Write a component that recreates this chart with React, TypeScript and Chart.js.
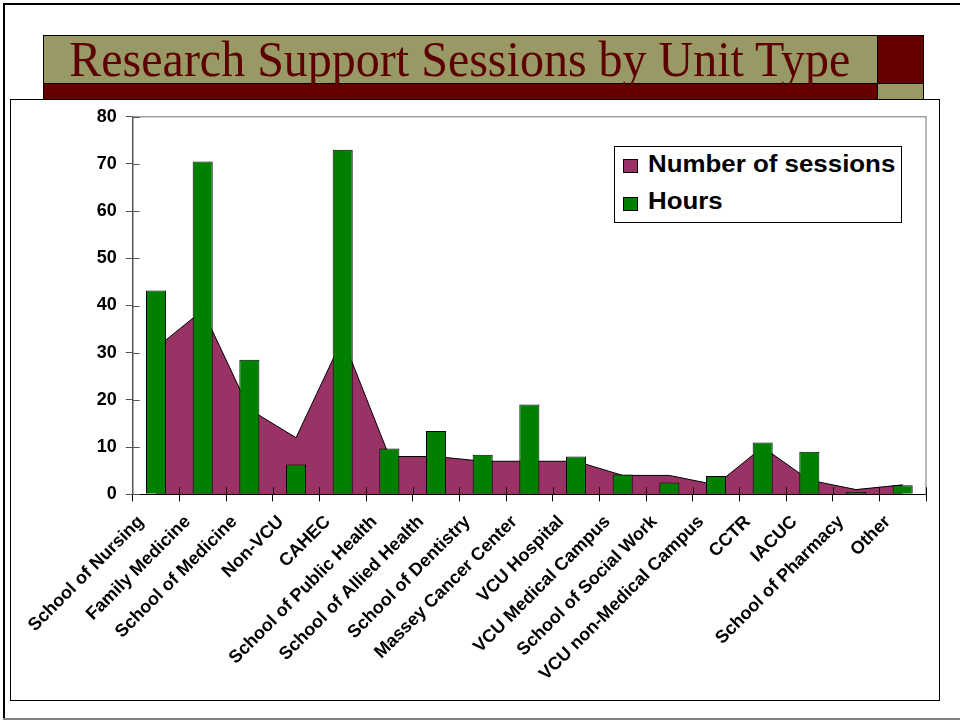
import React, { useEffect, useRef } from "react";
import { Chart, registerables } from "chart.js";

Chart.register(...registerables);

const categories = [
  "School of Nursing",
  "Family Medicine",
  "School of Medicine",
  "Non-VCU",
  "CAHEC",
  "School of Public Health",
  "School of Allied Health",
  "School of Dentistry",
  "Massey Cancer Center",
  "VCU Hospital",
  "VCU Medical Campus",
  "School of Social Work",
  "VCU non-Medical Campus",
  "CCTR",
  "IACUC",
  "School of Pharmacy",
  "Other",
];

const sessions = [31, 39, 18, 12, 33, 8, 8, 7, 7, 7, 4, 4, 2, 10, 3, 1, 2];
const hours = [43.2, 70.5, 28.5, 6.3, 73.0, 9.7, 13.4, 8.4, 19.0, 8.0, 4.2, 2.5, 3.9, 11.0, 9.0, 0.5, 1.9];

const yMin = 0;
const yMax = 80;
const yStep = 10;

const titleText = "Research Support Sessions by Unit Type";
const legendLabels = ["Number of sessions", "Hours"];

const SESSIONS_COLOR = "#993366";
const HOURS_COLOR = "#008000";
const MAROON = "#660000";
const KHAKI = "#999966";
const FONT = "'Liberation Sans', Arial, sans-serif";

const crossTicks = {
  id: "crossTicks",
  afterDatasetsDraw(chart: any) {
    const { ctx, chartArea, scales } = chart;
    const { left, right, top, bottom } = chartArea;
    ctx.save();
    ctx.strokeStyle = "#a0a0a0";
    ctx.lineWidth = 1.5;
    ctx.beginPath();
    ctx.moveTo(left, top);
    ctx.lineTo(right, top);
    ctx.lineTo(right, bottom);
    ctx.stroke();
    ctx.strokeStyle = "#555";
    ctx.lineWidth = 1;
    for (let v = yMin; v <= yMax; v += yStep) {
      const y = Math.round(scales.y.getPixelForValue(v)) + 0.5;
      ctx.beginPath();
      ctx.moveTo(left, y);
      ctx.lineTo(left + 7, y);
      ctx.stroke();
    }
    ctx.strokeStyle = "#000";
    const n = categories.length;
    for (let i = 1; i <= n; i++) {
      const x = Math.round(left + (i * (right - left)) / n) + 0.5;
      ctx.beginPath();
      ctx.moveTo(x, bottom);
      ctx.lineTo(x, bottom - 7);
      ctx.stroke();
    }
    ctx.restore();
  },
};

function ChartCanvas() {
  const ref = useRef<HTMLCanvasElement | null>(null);
  useEffect(() => {
    if (!ref.current) return;
    const chart = new Chart(ref.current, {
      type: "bar",
      data: {
        labels: categories,
        datasets: [
          {
            type: "bar",
            label: legendLabels[1],
            data: hours,
            backgroundColor: HOURS_COLOR,
            borderColor: "#000",
            borderWidth: 1,
            categoryPercentage: 1,
            barPercentage: 0.43,
            order: 0,
          } as any,
          {
            type: "line",
            label: legendLabels[0],
            data: sessions,
            backgroundColor: SESSIONS_COLOR,
            borderColor: "#000",
            borderWidth: 1,
            fill: "origin",
            pointRadius: 0,
            tension: 0,
            order: 1,
          } as any,
        ],
      },
      options: {
        responsive: false,
        maintainAspectRatio: false,
        animation: false,
        layout: { padding: { top: 15.7, right: 12, left: 0, bottom: 0 } },
        plugins: {
          legend: { display: false },
          title: { display: false },
          tooltip: { enabled: false },
        },
        scales: {
          x: {
            type: "category",
            offset: true,
            grid: {
              display: true,
              offset: true,
              drawOnChartArea: false,
              drawTicks: true,
              tickLength: 7,
              color: "#000",
            },
            border: { display: true, color: "#000", width: 1 },
            ticks: {
              autoSkip: false,
              minRotation: 45,
              maxRotation: 45,
              color: "#000",
              padding: 10,
              labelOffset: -15,
              font: { family: FONT, size: 18, weight: "bold" },
            },
            afterFit: (scale: any) => {
              scale.height = 204.7;
              scale.paddingLeft = 0;
              scale.paddingRight = 0;
            },
          },
          y: {
            min: yMin,
            max: yMax,
            grid: {
              display: true,
              drawOnChartArea: false,
              drawTicks: true,
              tickLength: 7,
              color: "#555",
            },
            border: { display: true, color: "#555", width: 1.5 },
            ticks: {
              stepSize: yStep,
              color: "#000",
              padding: 9,
              font: { family: FONT, size: 18, weight: "bold" },
            },
            afterFit: (scale: any) => {
              scale.width = 121.7;
              scale.paddingTop = 0;
              scale.paddingBottom = 0;
            },
          },
        },
      } as any,
      plugins: [crossTicks],
    });
    return () => chart.destroy();
  }, []);
  return (
    <canvas
      ref={ref}
      width={927}
      height={598}
      style={{ position: "absolute", left: 11, top: 101, width: 927, height: 598 }}
    />
  );
}

export default function App() {
  const abs = (l: number, t: number, w: number, h: number, extra: any = {}) => ({
    position: "absolute" as const,
    left: l,
    top: t,
    width: w,
    height: h,
    boxSizing: "border-box" as const,
    ...extra,
  });
  return (
    <div style={{ position: "absolute", left: 0, top: 0, width: 960, height: 721, background: "#fff", overflow: "hidden" }}>
      <div style={abs(3, 3, 957, 2, { background: "#000" })} />
      <div style={abs(3, 3, 2, 717, { background: "#000" })} />
      <div style={abs(3, 718, 957, 2, { background: "#808080" })} />

      <div style={abs(42.7, 34.7, 835, 49, { background: KHAKI, border: "1px solid #000" })} />
      <div style={abs(876.7, 34.7, 47.3, 49, { background: MAROON, border: "1px solid #000" })} />
      <div style={abs(42.7, 82.7, 835, 17, { background: MAROON, border: "1px solid #000" })} />
      <div style={abs(876.7, 82.7, 47.3, 17, { background: KHAKI, border: "1px solid #000" })} />
      <div
        style={{
          position: "absolute",
          left: 42.7,
          top: 34,
          width: 834,
          height: 50,
          lineHeight: "50px",
          textAlign: "center",
          fontFamily: "'Liberation Serif', 'Times New Roman', serif",
          fontSize: 50,
          color: "#5c0000",
          whiteSpace: "nowrap",
        }}
      >
        <span style={{ display: "inline-block", transform: "scaleX(0.96)" }}>{titleText}</span>
      </div>

      <div style={abs(10, 99.3, 929.5, 601.5, { background: "#fff", border: "1.5px solid #000" })} />

      <ChartCanvas />

      <div style={abs(614, 145.7, 288, 77, { background: "#fff", border: "1px solid #000" })}>
        {legendLabels.map((lab, i) => (
          <React.Fragment key={lab}>
            <div
              style={abs(8.3, 12.5 + i * 37.5, 15, 14, {
                background: i === 0 ? SESSIONS_COLOR : HOURS_COLOR,
                border: "1px solid #000",
              })}
            />
            <div
              style={{
                position: "absolute",
                left: 32.7,
                top: 6.5 + i * 37.3,
                fontFamily: FONT,
                fontWeight: "bold",
                fontSize: 23,
                lineHeight: "23px",
                color: "#000",
                whiteSpace: "nowrap",
                transform: "scaleX(1.125)",
                transformOrigin: "left center",
              }}
            >
              {lab}
            </div>
          </React.Fragment>
        ))}
      </div>
    </div>
  );
}
